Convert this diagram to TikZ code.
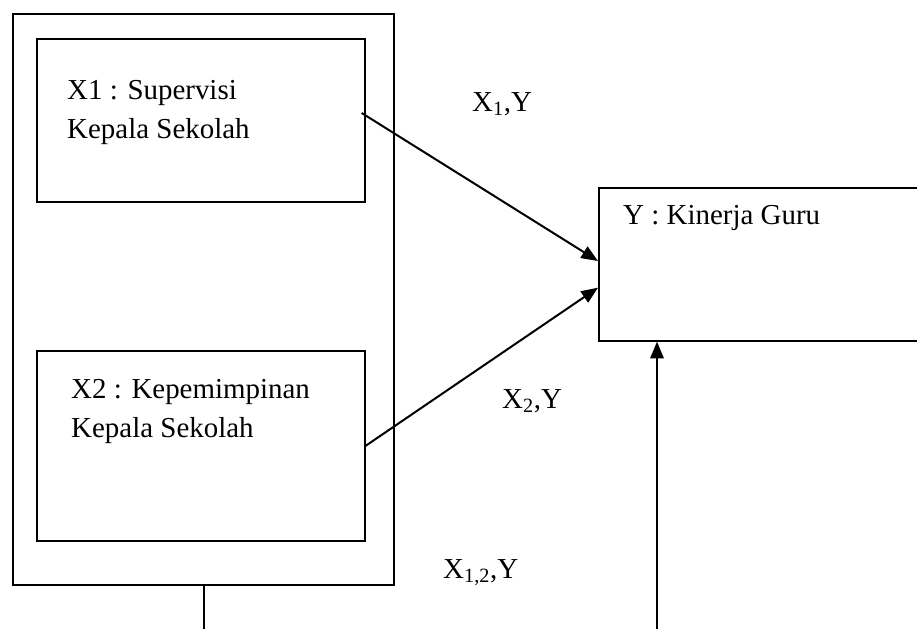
\documentclass[tikz,border=0pt]{standalone}
\usepackage{fontspec}
\setmainfont{Liberation Serif}
\usepackage{tikz}
\usetikzlibrary{arrows.meta, positioning, calc}
\tikzset{
    box_plain/.style={
        rectangle, draw=black, line width=1.4pt, inner sep=0pt, anchor=north west
    },
    link_arrow/.style={
        -{Triangle[length=5mm, width=4mm]}, draw=black, line width=1.7pt
    },
    link_line/.style={
        draw=black, line width=1.4pt
    },
    txt_lbl/.style={
        anchor=base west, inner sep=0pt, font=\fontsize{24.7}{28}\selectfont
    }
}
\begin{document}
\begin{tikzpicture}
    \useasboundingbox (0,0) rectangle (27.51,-18.87);

    % Left group: outer frame with the two predictor boxes
    \node[box_plain, minimum width=11.43cm, minimum height=17.13cm] (outer) at (0.36,-0.39) {};
    \node[box_plain, minimum width=9.84cm, minimum height=4.89cm] (x1) at (1.08,-1.14) {};
    \node[box_plain, minimum width=9.84cm, minimum height=5.70cm] (x2) at (1.08,-10.50) {};

    % Right box (runs past the page edge)
    \node[box_plain, minimum width=10.2cm, minimum height=4.59cm] (y) at (17.94,-5.61) {};

    % Box texts
    \node[txt_lbl] (x1a) at (2.01,-2.97) {X1 : Supervisi};
    \node[txt_lbl] (x1b) at (2.01,-4.14) {Kepala Sekolah};
    \node[txt_lbl] (x2a) at (2.13,-11.94) {X2 : Kepemimpinan};
    \node[txt_lbl] (x2b) at (2.13,-13.11) {Kepala Sekolah};
    \node[txt_lbl] (ya) at (18.69,-6.72) {Y : Kinerja Guru};

    % Path labels
    \node[txt_lbl] (l1) at (14.16,-3.33) {X\textsubscript{1},Y};
    \node[txt_lbl] (l2) at (15.06,-12.24) {X\textsubscript{2},Y};
    \node[txt_lbl] (l12) at (13.29,-17.34) {X\textsubscript{1,2},Y};

    % Loose ends at the bottom edge
    \coordinate (outbot) at (6.12,-18.87);
    \coordinate (ybot) at (19.71,-18.87);

    % Arrows into Y
    \draw[link_arrow] ([xshift=-0.12cm, yshift=0.22cm]x1.east) -- ([yshift=0.1cm]y.west);
    \draw[link_arrow] (x2.east) -- ([yshift=-0.7cm]y.west);
    \draw[link_line] (outer.south -| outbot) -- (outbot);
    \draw[link_arrow] (ybot) -- (ybot |- y.south);
\end{tikzpicture}
\end{document}
